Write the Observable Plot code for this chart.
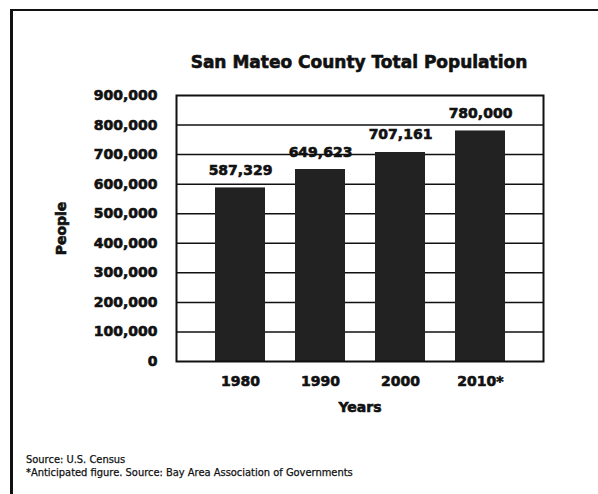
<!DOCTYPE html>
<html>
<head>
<meta charset="utf-8">
<script src="https://cdn.jsdelivr.net/npm/d3@7"></script>
<script src="https://cdn.jsdelivr.net/npm/@observablehq/plot@0.6"></script>
<style>
  html, body { margin: 0; padding: 0; background: #fff; }
  #page { position: relative; width: 598px; height: 494px; overflow: hidden; background: #fff; }
  #box { position: absolute; left: 10px; top: 9px; width: 600px; height: 500px;
         border-left: 3px solid #111; border-top: 2px solid #111; }
  #title { position: absolute; left: 0; width: 718px; top: 52px; text-align: center;
           font: bold 17px "DejaVu Sans", sans-serif; color: #111; white-space: nowrap;
           -webkit-text-stroke: 0.6px #111; }
  #chart { position: absolute; left: 0; top: 80px; }
  #chart text { stroke: #111; stroke-width: 0.6px; paint-order: stroke; }
  #notes { position: absolute; left: 26px; top: 453px;
           font: 11px "Liberation Sans Narrow", "DejaVu Sans Condensed", sans-serif;
           line-height: 13px; color: #111; -webkit-text-stroke: 0.25px #111; }
</style>
</head>
<body>
<div id="page">
  <div id="box"></div>
  <div id="title">San Mateo County Total Population</div>
  <div id="chart"></div>
  <div id="notes">
    <div>Source: U.S. Census</div>
    <div>*Anticipated figure. Source: Bay Area Association of Governments</div>
  </div>
</div>
<script>
// Census years (2010 is a projection) and total population
const years = ["1980", "1990", "2000", "2010*"];
const population = [587329, 649623, 707161, 780000];
const yTicks = [0, 100000, 200000, 300000, 400000, 500000, 600000, 700000, 800000, 900000];
const gridValues = [100000, 200000, 300000, 400000, 500000, 600000, 700000, 800000];

const rows = years.map((year, i) => ({year, value: population[i]}));
const fmt = d3.format(",");

const chart = Plot.plot({
  width: 598,
  height: 345,
  marginTop: 15,
  marginLeft: 176,
  marginRight: 55,
  marginBottom: 64,
  style: {fontFamily: "DejaVu Sans, sans-serif", fontSize: "14px", fontWeight: "bold", color: "#111", background: "transparent"},
  x: {domain: years, paddingInner: 0.375, paddingOuter: 0.475},
  y: {domain: [0, 900000]},
  marks: [
    Plot.ruleY(gridValues, {stroke: "#111", strokeWidth: 1.5}),
    Plot.barY(rows, {x: "year", y: "value", fill: "#222"}),
    Plot.text(rows, {x: "year", y: "value", text: d => fmt(d.value), dy: -13, lineAnchor: "bottom", fill: "#111"}),
    Plot.frame({stroke: "#111", strokeWidth: 2}),
    Plot.axisY(yTicks, {tickSize: 0, tickPadding: 19, tickFormat: fmt, label: "People",
      labelAnchor: "center", labelArrow: "none", labelOffset: 120, fontSize: 14}),
    Plot.axisX({tickSize: 0, tickPadding: 15, label: "Years", labelAnchor: "center",
      labelArrow: "none", labelOffset: 50, fontSize: 14})
  ]
});
document.getElementById("chart").appendChild(chart);
</script>
</body>
</html>
